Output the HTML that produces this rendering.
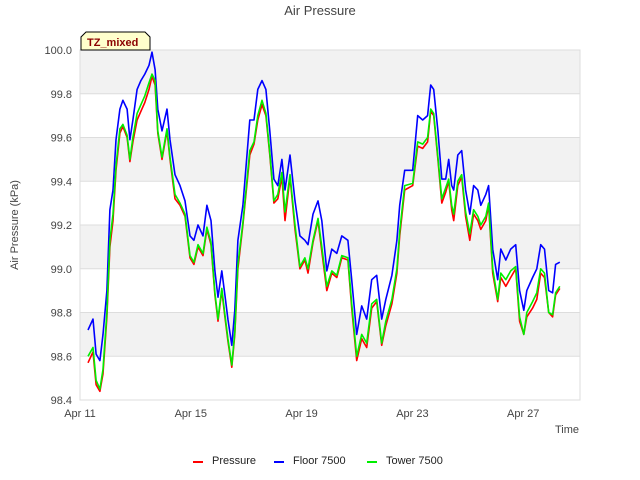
<!DOCTYPE html>
<html><head><meta charset="utf-8"><style>
body{margin:0;background:#fff;}
svg{display:block;font-family:"Liberation Sans","DejaVu Sans",sans-serif;}
</style></head><body>
<svg id="chart" width="640" height="480">
<rect x="0" y="0" width="640" height="480" fill="#fff"/>
<g id="bands"></g>
<g id="grid"></g>
<rect x="80" y="50" width="500" height="350" fill="none" stroke="#dddddd" stroke-width="1"/>
<g id="yticks"></g>
<g id="xticks"></g>
<g id="series"></g>
<text x="320" y="15" text-anchor="middle" font-size="13" fill="#444">Air Pressure</text>
<text transform="translate(18,225) rotate(-90)" text-anchor="middle" font-size="11" fill="#444">Air Pressure (kPa)</text>
<text x="579" y="433" text-anchor="end" font-size="11" fill="#444">Time</text>
<g>
<path d="M81,50 L81,37 L86,32 L145,32 L150,37 L150,50 Z" fill="#ffffcc" stroke="#000" stroke-width="1"/>
<text x="87" y="46" font-size="11" font-weight="bold" fill="#8b0000">TZ_mixed</text>
</g>
<g>
<g><line x1="193" y1="462" x2="203" y2="462" stroke="#ff0000" stroke-width="2"/><text x="212" y="464" font-size="11" fill="#222">Pressure</text></g>
<g><line x1="274" y1="462" x2="284" y2="462" stroke="#0000ff" stroke-width="2"/><text x="293" y="464" font-size="11" fill="#222">Floor 7500</text></g>
<g><line x1="367" y1="462" x2="377" y2="462" stroke="#00ee00" stroke-width="2"/><text x="386" y="464" font-size="11" fill="#222">Tower 7500</text></g>
</g>
</svg>
<script>
const yTicks = [98.4, 98.6, 98.8, 99.0, 99.2, 99.4, 99.6, 99.8, 100.0];
const xTickDays = [0, 4, 8, 12, 16];
const xTickLabels = ["Apr 11", "Apr 15", "Apr 19", "Apr 23", "Apr 27"];
const days = [0.29,0.47,0.58,0.72,0.83,0.97,1.08,1.19,1.30,1.44,1.55,1.70,1.80,1.91,2.06,2.20,2.34,2.49,2.60,2.71,2.81,2.96,3.14,3.25,3.43,3.61,3.79,3.97,4.11,4.26,4.44,4.58,4.73,4.87,4.98,5.12,5.23,5.34,5.48,5.59,5.70,5.88,6.13,6.28,6.42,6.57,6.71,6.85,7.00,7.14,7.29,7.40,7.58,7.76,7.94,8.12,8.23,8.41,8.59,8.73,8.91,9.09,9.27,9.45,9.67,9.81,9.99,10.17,10.35,10.53,10.71,10.89,11.04,11.26,11.44,11.54,11.72,12.01,12.19,12.37,12.55,12.66,12.77,12.92,13.06,13.20,13.31,13.42,13.49,13.64,13.78,13.92,14.07,14.21,14.36,14.47,14.65,14.75,14.90,15.08,15.19,15.37,15.55,15.73,15.87,16.02,16.13,16.34,16.49,16.63,16.77,16.92,17.06,17.17,17.32];
const floor7500 = [98.72,98.77,98.61,98.58,98.70,98.90,99.27,99.36,99.59,99.73,99.77,99.73,99.59,99.68,99.82,99.86,99.89,99.93,99.99,99.91,99.73,99.63,99.73,99.59,99.43,99.38,99.31,99.15,99.13,99.20,99.15,99.29,99.22,98.99,98.87,98.99,98.88,98.77,98.65,98.81,99.13,99.29,99.68,99.68,99.82,99.86,99.82,99.63,99.41,99.38,99.50,99.36,99.52,99.31,99.15,99.13,99.11,99.25,99.31,99.22,98.99,99.09,99.07,99.15,99.13,98.95,98.70,98.83,98.77,98.95,98.97,98.77,98.86,98.97,99.13,99.29,99.45,99.45,99.70,99.68,99.70,99.84,99.82,99.63,99.41,99.41,99.50,99.38,99.36,99.52,99.54,99.36,99.25,99.38,99.36,99.29,99.34,99.38,99.09,98.95,99.09,99.04,99.09,99.11,98.90,98.81,98.90,98.96,99.00,99.11,99.09,98.90,98.89,99.02,99.03];
const pressure = [98.57,98.62,98.47,98.44,98.52,98.78,99.10,99.22,99.45,99.62,99.65,99.60,99.49,99.58,99.68,99.72,99.76,99.82,99.88,99.84,99.62,99.50,99.63,99.50,99.32,99.29,99.24,99.05,99.02,99.10,99.06,99.18,99.11,98.88,98.76,98.90,98.78,98.67,98.55,98.70,99.00,99.20,99.52,99.57,99.68,99.75,99.70,99.52,99.30,99.32,99.42,99.22,99.42,99.18,99.00,99.04,98.98,99.12,99.22,99.08,98.90,98.98,98.96,99.05,99.04,98.82,98.58,98.68,98.64,98.82,98.85,98.65,98.74,98.84,98.98,99.15,99.36,99.38,99.56,99.55,99.58,99.72,99.70,99.50,99.30,99.35,99.40,99.27,99.22,99.38,99.42,99.24,99.13,99.25,99.22,99.18,99.22,99.29,98.98,98.85,98.96,98.92,98.96,99.00,98.76,98.70,98.78,98.82,98.86,98.98,98.96,98.80,98.78,98.88,98.91];
const tower7500 = [98.60,98.64,98.49,98.45,98.54,98.80,99.13,99.25,99.47,99.64,99.66,99.61,99.50,99.60,99.71,99.75,99.79,99.85,99.89,99.86,99.63,99.51,99.64,99.51,99.34,99.30,99.25,99.06,99.03,99.11,99.07,99.19,99.12,98.89,98.77,98.91,98.79,98.68,98.56,98.71,99.02,99.21,99.54,99.58,99.70,99.77,99.71,99.53,99.31,99.34,99.44,99.26,99.43,99.20,99.01,99.05,99.00,99.13,99.23,99.10,98.92,98.99,98.97,99.06,99.05,98.84,98.60,98.70,98.66,98.84,98.86,98.66,98.76,98.86,99.00,99.17,99.38,99.39,99.58,99.57,99.60,99.73,99.71,99.51,99.32,99.37,99.41,99.29,99.25,99.40,99.43,99.26,99.16,99.27,99.24,99.20,99.24,99.30,99.00,98.86,98.98,98.95,98.99,99.01,98.78,98.70,98.80,98.85,98.89,99.00,98.98,98.80,98.79,98.89,98.92];

const X0=80, X1=580, Y0=400, Y1=50, DMIN=0, DMAX=18.05, VMIN=98.4, VMAX=100.0;
function xs(d){return X0+(d-DMIN)/(DMAX-DMIN)*(X1-X0);}
function ys(v){return Y0-(v-VMIN)/(VMAX-VMIN)*(Y0-Y1);}
const NS="http://www.w3.org/2000/svg";
function mk(tag,attrs,parent){const e=document.createElementNS(NS,tag);for(const k in attrs)e.setAttribute(k,attrs[k]);parent.appendChild(e);return e;}
const bands=document.getElementById('bands'), grid=document.getElementById('grid'), yt=document.getElementById('yticks'), xt=document.getElementById('xticks'), ser=document.getElementById('series');
for(let i=0;i<yTicks.length-1;i++){
  if(i%2===1){
    const r=mk('rect',{x:X0,y:ys(yTicks[i+1]),width:X1-X0,height:ys(yTicks[i])-ys(yTicks[i+1]),fill:'#f2f2f2'},bands);
    
    
  }
}
yTicks.forEach(v=>{
  const l=mk('line',{x1:X0,x2:X1,y1:ys(v),y2:ys(v),stroke:'#dddddd','stroke-width':1},grid);
  
  
  const t=mk('text',{x:X0-8,y:ys(v)+4,'text-anchor':'end','font-size':11,fill:'#444'},yt);
  t.textContent=v.toFixed(1);
  
  
});
xTickDays.forEach((d,i)=>{
  const t=mk('text',{x:xs(d),y:417,'text-anchor':'middle','font-size':11,fill:'#444'},xt);
  t.textContent=xTickLabels[i];
  
  
});
function line(vals,color,name){
  const pts=days.map((d,i)=>xs(d).toFixed(1)+','+ys(vals[i]).toFixed(1)).join(' ');
  const p=mk('polyline',{points:pts,fill:'none',stroke:color,'stroke-width':1.6,'stroke-linejoin':'round'},ser);
  
  
}
line(pressure,'#ff0000','pressure-line');
line(floor7500,'#0000ff','floor-7500-line');
line(tower7500,'#00ee00','tower-7500-line');
</script>
</body></html>
